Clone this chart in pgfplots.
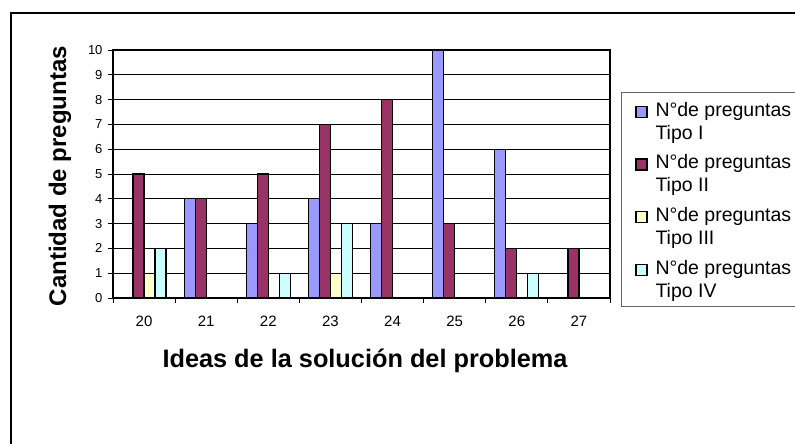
\documentclass[border=0pt]{standalone}
\usepackage{fontspec}
\setmainfont{Liberation Sans}
\usepackage{pgfplots}
\pgfplotsset{compat=1.18}

\definecolor{tipoI}{HTML}{9999FF}
\definecolor{tipoII}{HTML}{993366}
\definecolor{tipoIII}{HTML}{FFFFCC}
\definecolor{tipoIV}{HTML}{CCFFFF}

\begin{document}
\begin{tikzpicture}[x=1pt,y=1pt]
\useasboundingbox (0,0) rectangle (795,444);
\fill[white] (0,0) rectangle (795,444);
% outer chart frame
\draw[line width=2pt] (11,-20) -- (11,431) -- (830,431);

\begin{axis}[
  at={(113pt,146pt)}, anchor=south west,
  scale only axis, width=497pt, height=248pt,
  ybar=0pt, bar width=11pt,
  xmin=-0.5, xmax=7.5, ymin=0, ymax=10,
  xtick={-0.5,0.5,...,7.5}, xticklabels={},
  extra x ticks={0,1,2,3,4,5,6,7},
  extra x tick labels={20,21,22,23,24,25,26,27},
  extra x tick style={major tick length=0pt,
    xticklabel style={font=\fontsize{15}{17}\selectfont, yshift=-14pt}},
  ytick={0,1,...,10},
  yticklabel style={font=\fontsize{13}{15}\selectfont, xshift=-2pt},
  /pgf/number format/assume math mode=true,
  tick pos=left, tick align=outside, major tick length=5pt,
  tick style={black, line width=0.8pt},
  ymajorgrids, major grid style={black, line width=0.8pt},
  axis line style={black, line width=1.4pt},
  every axis plot/.append style={draw=black, line width=1.3pt},
  legend style={at={(axis description cs:1.0503,0.7984)}, anchor=north west,
    draw=none, fill=none, inner sep=0pt,
    font=\fontsize{19.5}{23}\selectfont,
    cells={anchor=base west, align=left, inner sep=0pt},
    column sep=6pt, row sep=10pt},
  % the square sits beside the first of the two text lines
  legend image code/.code={%
    \draw[#1, line width=1.3pt] (0pt,22pt) rectangle (11pt,33pt);},
]
% Tipo I
\addplot[fill=tipoI] coordinates {(1,4) (2,3) (3,4) (4,3) (5,10) (6,6)};
% Tipo II
\addplot[fill=tipoII] coordinates {(0,5) (1,4) (2,5) (3,7) (4,8) (5,3) (6,2) (7,2)};
% Tipo III
\addplot[fill=tipoIII] coordinates {(0,1) (3,1)};
% Tipo IV
\addplot[fill=tipoIV] coordinates {(0,2) (2,1) (3,3) (6,1)};
\addlegendentry{N°de preguntas\\Tipo I}
\addlegendentry{N°de preguntas\\Tipo II}
\addlegendentry{N°de preguntas\\Tipo III}
\addlegendentry{N°de preguntas\\Tipo IV}
\end{axis}

% legend frame
\draw[black!60, line width=1pt] (621,137) rectangle (830,351);

% axis titles
\node[rotate=90, font=\bfseries\fontsize{24}{28}\selectfont] at (60,268) {Cantidad de preguntas};
\node[anchor=base, font=\bfseries\fontsize{25.3}{30}\selectfont] at (365,76) {Ideas de la solución del problema};
\end{tikzpicture}
\end{document}
